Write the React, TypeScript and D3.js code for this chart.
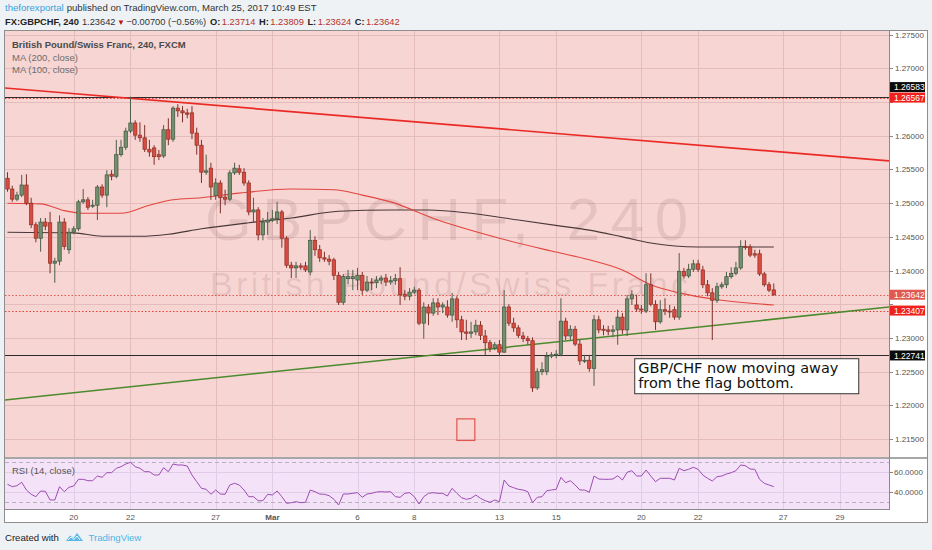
import { useRef, useEffect } from "react";
import * as d3 from "d3";

// GBPCHF 4h candles, Feb 16 - Mar 24 2017
const opens = [
  1.2537, 1.2521, 1.2506, 1.2512, 1.2527, 1.25, 1.2468, 1.2448, 1.2472, 1.2471,
  1.2411, 1.2414, 1.2472, 1.2431, 1.2457, 1.2462, 1.2502, 1.2505, 1.2496, 1.2497,
  1.2524, 1.2512, 1.2543, 1.254, 1.2572, 1.2583, 1.2607, 1.2619, 1.2601, 1.2597,
  1.258, 1.2582, 1.2572, 1.257, 1.2609, 1.2595, 1.2641, 1.2637, 1.2634, 1.2634,
  1.2604, 1.2586, 1.2546, 1.2552, 1.2511, 1.253, 1.2509, 1.2506, 1.2545, 1.2551,
  1.2546, 1.253, 1.2487, 1.249, 1.2453, 1.2472, 1.2475, 1.2477, 1.2487, 1.2448,
  1.2408, 1.2404, 1.2407, 1.2407, 1.2398, 1.2445, 1.2431, 1.2419, 1.2417, 1.2416,
  1.2393, 1.2353, 1.2388, 1.2388, 1.2386, 1.2393, 1.2371, 1.2383, 1.2382, 1.2386,
  1.2389, 1.2383, 1.2385, 1.2388, 1.2365, 1.2362, 1.2368, 1.2371, 1.2322, 1.2346,
  1.2337, 1.2352, 1.2346, 1.2346, 1.2334, 1.2358, 1.2327, 1.2309, 1.2307, 1.2309,
  1.2319, 1.2303, 1.2293, 1.2285, 1.229, 1.2279, 1.2346, 1.2322, 1.2315, 1.2303,
  1.2299, 1.2296, 1.2226, 1.225, 1.225, 1.2273, 1.2275, 1.2276, 1.2325, 1.2303,
  1.2313, 1.2291, 1.2266, 1.2267, 1.2255, 1.2327, 1.2313, 1.2312, 1.231, 1.2312,
  1.2331, 1.2312, 1.2358, 1.2349, 1.2343, 1.234, 1.2379, 1.235, 1.2324, 1.2342,
  1.234, 1.2342, 1.2331, 1.2399, 1.2392, 1.2402, 1.241, 1.2401, 1.2379, 1.2367,
  1.2356, 1.2376, 1.2379, 1.2391, 1.2396, 1.2404, 1.2436, 1.2435, 1.2425, 1.2425,
  1.2395, 1.2379, 1.23714,
];
const highs = [
  1.2546, 1.2526, 1.2517, 1.2542, 1.2543, 1.2508, 1.2472, 1.2478, 1.2478, 1.2487,
  1.2419, 1.2482, 1.2478, 1.2463, 1.2466, 1.2505, 1.2521, 1.2509, 1.2505, 1.2527,
  1.2528, 1.2549, 1.2549, 1.2594, 1.2594, 1.2612, 1.2658, 1.2623, 1.262, 1.2616,
  1.2594, 1.2586, 1.2579, 1.2616, 1.2626, 1.2644, 1.2647, 1.2644, 1.264, 1.2644,
  1.2612, 1.2594, 1.2572, 1.256, 1.2537, 1.2534, 1.252, 1.2549, 1.256, 1.2557,
  1.2552, 1.2534, 1.2508, 1.2494, 1.2478, 1.2487, 1.249, 1.2502, 1.249, 1.2451,
  1.2413, 1.2413, 1.2411, 1.2413, 1.246, 1.2451, 1.2438, 1.2428, 1.2423, 1.2419,
  1.2398, 1.2395, 1.2401, 1.2401, 1.2404, 1.2398, 1.2392, 1.2389, 1.2392, 1.2393,
  1.2395, 1.2392, 1.2395, 1.2405, 1.2371, 1.2374, 1.2376, 1.2374, 1.2353, 1.235,
  1.2359, 1.2359, 1.2353, 1.2356, 1.2367, 1.2362, 1.2333, 1.2327, 1.2324, 1.2327,
  1.2325, 1.2312, 1.2297, 1.2294, 1.2297, 1.2371, 1.235, 1.233, 1.2319, 1.2309,
  1.2303, 1.2301, 1.2255, 1.2264, 1.2279, 1.2279, 1.2282, 1.2359, 1.233, 1.2319,
  1.2318, 1.2297, 1.2275, 1.2275, 1.2334, 1.2333, 1.2319, 1.2318, 1.2319, 1.2342,
  1.2337, 1.2364, 1.2371, 1.2364, 1.2349, 1.2396, 1.2396, 1.2356, 1.2356, 1.2359,
  1.2349, 1.2347, 1.2426, 1.2404, 1.241, 1.2416, 1.2416, 1.2407, 1.2386, 1.2374,
  1.2382, 1.2383, 1.2398, 1.2405, 1.2413, 1.2445, 1.2445, 1.2439, 1.2431, 1.2431,
  1.2398, 1.2383, 1.23809,
];
const lows = [
  1.2517, 1.2502, 1.2503, 1.2509, 1.2497, 1.2463, 1.2442, 1.2428, 1.246, 1.2396,
  1.2382, 1.2408, 1.2431, 1.2425, 1.2454, 1.2459, 1.2499, 1.249, 1.2493, 1.2475,
  1.2508, 1.2494, 1.2534, 1.2537, 1.2569, 1.2579, 1.2604, 1.2594, 1.2591, 1.2576,
  1.2569, 1.2557, 1.2564, 1.2567, 1.2586, 1.2591, 1.2628, 1.262, 1.2626, 1.2595,
  1.2572, 1.253, 1.2542, 1.2505, 1.2505, 1.2485, 1.2497, 1.2503, 1.2542, 1.2542,
  1.2526, 1.2482, 1.2472, 1.2445, 1.2445, 1.2453, 1.2472, 1.2469, 1.2434, 1.2404,
  1.2389, 1.2389, 1.2401, 1.2398, 1.2393, 1.2422, 1.2413, 1.2413, 1.2408, 1.2386,
  1.2349, 1.2349, 1.238, 1.2371, 1.2371, 1.2364, 1.2368, 1.2371, 1.2374, 1.238,
  1.2377, 1.2379, 1.2379, 1.2349, 1.2356, 1.2356, 1.2365, 1.2319, 1.2299, 1.2319,
  1.2333, 1.2334, 1.2337, 1.233, 1.2324, 1.2315, 1.2297, 1.2297, 1.23, 1.2304,
  1.2297, 1.2275, 1.2279, 1.2282, 1.2273, 1.2278, 1.2318, 1.2309, 1.23, 1.2294,
  1.229, 1.222, 1.2223, 1.2245, 1.2245, 1.227, 1.227, 1.2273, 1.2297, 1.2297,
  1.2288, 1.226, 1.2263, 1.225, 1.2229, 1.2307, 1.2304, 1.2304, 1.2301, 1.229,
  1.2306, 1.2303, 1.2349, 1.2339, 1.2336, 1.2337, 1.2347, 1.2312, 1.2321, 1.2334,
  1.233, 1.2327, 1.2327, 1.2388, 1.2389, 1.2398, 1.2398, 1.2374, 1.2362, 1.2297,
  1.2352, 1.2373, 1.2374, 1.2388, 1.2393, 1.2401, 1.2431, 1.242, 1.2419, 1.2392,
  1.2376, 1.2368, 1.23624,
];
const closes = [
  1.2521, 1.2506, 1.2512, 1.2527, 1.25, 1.2468, 1.2448, 1.2472, 1.2466, 1.2411,
  1.2414, 1.2472, 1.2436, 1.2457, 1.2462, 1.2502, 1.2505, 1.2494, 1.2497, 1.2524,
  1.2512, 1.2542, 1.254, 1.2572, 1.2583, 1.2607, 1.2619, 1.2601, 1.2597, 1.258,
  1.2576, 1.2569, 1.2569, 1.2609, 1.2595, 1.2641, 1.2637, 1.2634, 1.2632, 1.2604,
  1.2586, 1.2546, 1.2548, 1.2524, 1.253, 1.2508, 1.2506, 1.2545, 1.2552, 1.2546,
  1.253, 1.2487, 1.249, 1.2453, 1.2472, 1.2475, 1.2477, 1.2487, 1.2448, 1.2408,
  1.2404, 1.2407, 1.2405, 1.2401, 1.2445, 1.2431, 1.2419, 1.2417, 1.2414, 1.2393,
  1.2353, 1.2391, 1.2391, 1.2391, 1.2393, 1.2371, 1.2383, 1.2382, 1.2386, 1.2389,
  1.2383, 1.2385, 1.2388, 1.2364, 1.2362, 1.2368, 1.2371, 1.2322, 1.2346, 1.2337,
  1.2352, 1.2346, 1.2349, 1.2334, 1.2358, 1.2327, 1.2309, 1.2307, 1.2309, 1.2319,
  1.2304, 1.2293, 1.2285, 1.229, 1.2279, 1.2346, 1.2322, 1.2315, 1.2304, 1.2299,
  1.2296, 1.2226, 1.225, 1.2253, 1.2273, 1.2275, 1.2276, 1.2325, 1.2303, 1.2313,
  1.2291, 1.2266, 1.2267, 1.2255, 1.2327, 1.2312, 1.2312, 1.231, 1.2312, 1.2331,
  1.2312, 1.2358, 1.2364, 1.2343, 1.2342, 1.2379, 1.235, 1.2324, 1.2342, 1.234,
  1.2339, 1.2331, 1.2399, 1.2392, 1.2402, 1.241, 1.2402, 1.2379, 1.2367, 1.2356,
  1.2376, 1.2379, 1.2391, 1.2396, 1.2404, 1.2436, 1.2435, 1.2423, 1.2423, 1.2395,
  1.2379, 1.2371, 1.23642,
];

// RSI(14) per bar
const rsiValues = [
  47.7, 45.3, 46.3, 49.7, 42, 37.7, 35.3, 41, 40.7, 32,
  32, 45.3, 40.3, 44.7, 46, 52.7, 52.7, 51.3, 51.3, 56,
  54.7, 59.3, 59.3, 63.7, 65.3, 68, 69.7, 65.3, 63.7, 60.3,
  60.3, 57, 57, 64.3, 60.3, 68, 67, 67, 66, 57,
  50.3, 43.7, 42.7, 37.7, 42, 38, 37.7, 47, 48.7, 47,
  42, 35.3, 35.3, 31.3, 31.3, 37.7, 37, 41, 35.3, 28.7,
  29.3, 30.3, 29.3, 29.7, 42, 40.3, 38, 37.7, 36.3, 32.7,
  27, 38, 38, 38.7, 39.3, 34.7, 38, 38.7, 40, 40.3,
  40, 40.3, 35.3, 34.7, 38.7, 39.3, 35.3, 28, 35.3, 38.7,
  39.3, 38.7, 38.7, 36, 43.7, 38.7, 34.3, 32.7, 33.7, 37,
  33.7, 31.3, 29.7, 32, 30.3, 52, 46, 44.3, 42.7, 42,
  40.3, 29.3, 34.7, 35.3, 41.3, 42, 42.7, 54.7, 49.3, 51.3,
  47, 42, 42, 39.7, 56, 53, 52.7, 52.7, 53, 56.3,
  52, 59.7, 61.3, 56, 56, 62, 56, 50.3, 53.7, 53.7,
  53.7, 52, 63.7, 61.3, 62.7, 64.7, 62.7, 57, 53.7, 51,
  55.3, 56, 58, 59.3, 61.3, 67, 66.3, 63, 62.7, 52.7,
  48.7, 47, 45.3,
];

// moving averages, sampled [bar, value]
const ma200 = [
  [0, 1.2457], [14, 1.2456], [20, 1.2451], [28, 1.2451], [34, 1.2454], [41, 1.2462],
  [51, 1.2471], [60, 1.2478], [70, 1.2488], [81, 1.249], [89, 1.249], [98, 1.2485],
  [108, 1.2475], [117, 1.2466], [123, 1.246], [130, 1.245], [136, 1.2441],
  [146, 1.2435], [162, 1.2435],
];
const ma100 = [
  [0, 1.25], [7, 1.2499], [12, 1.2489], [16, 1.2485], [24, 1.2485], [30, 1.2497],
  [35, 1.2505], [41, 1.2508], [49, 1.2515], [60, 1.2521], [69, 1.252], [75, 1.2512],
  [81, 1.2502], [91, 1.2475], [104, 1.2448], [115, 1.2429], [123, 1.2416],
  [130, 1.2401], [136, 1.2379], [142, 1.2367], [151, 1.2356], [162, 1.2349],
];

// drawn trend lines, two anchors each [bar, price]
const upperTrend = [[0, 1.26706], [186, 1.25629]];
const lowerTrend = [[0, 1.22084], [186, 1.23457]];

const levelValues = [1.26583, 1.26567, 1.23642, 1.23407, 1.22741];

const dateTicks = [14, 26, 44, 56, 74, 86, 104, 116, 134, 146, 164, 176];
const dateLabels = ["20", "22", "27", "Mar", "6", "8", "13", "15", "20", "22", "27", "29"];
const priceTicks = [1.215, 1.22, 1.225, 1.23, 1.235, 1.24, 1.245, 1.25, 1.255, 1.26, 1.265, 1.27, 1.275];
const rsiTicks = [40, 60];
const rsiBands = [30, 70];

// note box and small square drawn on the chart, [bar, price]
const noteAnchor = [132.5, 1.227];
const squareCorners = [[95, 1.218], [98.8, 1.2148]];
const noteLines = ["GBP/CHF now moving away", "from the flag bottom."];

const FONT = "'Liberation Sans', Arial, sans-serif";

export default function App() {
  const svgRef = useRef<SVGSVGElement | null>(null);

  useEffect(() => {
    if (!svgRef.current) return;
    const svg = d3.select(svgRef.current);
    svg.selectAll("*").remove();

    const left = 5, right = 889, axisRight = 927;
    const mainTop = 31, mainBottom = 457, rsiTop = 459, rsiBottom = 509, frameBottom = 522;

    const x = d3.scaleLinear().domain([-0.53, 186.36]).range([left, right]);
    const y = d3.scaleLinear().domain([1.212344, 1.275549]).range([mainBottom, mainTop]);
    const yr = d3.scaleLinear().domain([23, 73]).range([rsiBottom, rsiTop]);

    svg.append("rect").attr("width", 932).attr("height", 550).attr("fill", "#eef2f5");

    const defs = svg.append("defs");
    defs.append("clipPath").attr("id", "mainClip")
      .append("rect").attr("x", left).attr("y", mainTop).attr("width", right - left).attr("height", mainBottom - mainTop);
    defs.append("clipPath").attr("id", "rsiClip")
      .append("rect").attr("x", left).attr("y", rsiTop).attr("width", right - left).attr("height", rsiBottom - rsiTop);

    // frame and panes
    svg.append("rect")
      .attr("x", left - 0.5).attr("y", mainTop - 0.5)
      .attr("width", axisRight - left + 1).attr("height", frameBottom - mainTop + 1)
      .attr("fill", "#fff").attr("stroke", "#8e8e8e");
    svg.append("rect").attr("x", left).attr("y", mainTop)
      .attr("width", right - left).attr("height", mainBottom - mainTop).attr("fill", "#f6d5d3");
    svg.append("rect").attr("x", left).attr("y", rsiTop)
      .attr("width", right - left).attr("height", rsiBottom - rsiTop).attr("fill", "#f4e3f8");

    // grid
    const grid = svg.append("g").attr("stroke", "#e3bcbb").attr("stroke-width", 1);
    grid.selectAll("line.v").data(dateTicks).enter().append("line")
      .attr("x1", (d) => Math.round(x(d)) + 0.5).attr("x2", (d) => Math.round(x(d)) + 0.5)
      .attr("y1", mainTop).attr("y2", mainBottom);
    grid.selectAll("line.h").data(priceTicks).enter().append("line")
      .attr("x1", left).attr("x2", right)
      .attr("y1", (d) => Math.round(y(d)) + 0.5).attr("y2", (d) => Math.round(y(d)) + 0.5);
    const rgrid = svg.append("g").attr("stroke", "#e2cde8");
    rgrid.selectAll("line.v").data(dateTicks).enter().append("line")
      .attr("x1", (d) => Math.round(x(d)) + 0.5).attr("x2", (d) => Math.round(x(d)) + 0.5)
      .attr("y1", rsiTop).attr("y2", rsiBottom);
    rgrid.selectAll("line.h").data(rsiTicks).enter().append("line")
      .attr("x1", left).attr("x2", right)
      .attr("y1", (d) => Math.round(yr(d)) + 0.5).attr("y2", (d) => Math.round(yr(d)) + 0.5);

    // watermark
    svg.append("text").attr("x", 205).attr("y", 240)
      .attr("font-family", FONT).attr("font-size", 60)
      .attr("textLength", 483).attr("lengthAdjust", "spacing")
      .attr("fill", "rgba(110,60,60,0.12)").text("GBPCHF, 240");
    svg.append("text").attr("x", 210).attr("y", 296)
      .attr("font-family", FONT).attr("font-size", 34)
      .attr("textLength", 478).attr("lengthAdjust", "spacing")
      .attr("fill", "rgba(110,60,60,0.12)").text("British Pound/Swiss Franc");

    const main = svg.append("g").attr("clip-path", "url(#mainClip)");

    // horizontal levels
    const levelStroke = ["#2b2b2b", "#e8403a", "#e0584f", "#e8403a", "#2b2b2b"];
    const levelDash = [null, "1.5,2", "1.5,2", "1.5,2", null];
    main.selectAll("line.level").data(levelValues).enter().append("line")
      .attr("x1", left).attr("x2", right)
      .attr("y1", (d) => Math.round(y(d)) + 0.5).attr("y2", (d) => Math.round(y(d)) + 0.5)
      .attr("stroke", (_, i) => levelStroke[i])
      .attr("stroke-dasharray", (_, i) => levelDash[i])
      .attr("stroke-width", 1);

    // trend lines spanning the pane
    const trend = (pts: number[][]) => {
      const f = d3.scaleLinear().domain([pts[0][0], pts[1][0]]).range([pts[0][1], pts[1][1]]);
      const [a, b] = x.domain();
      return [[a, f(a)], [b, f(b)]];
    };
    const seg = d3.line<number[]>().x((d) => x(d[0])).y((d) => y(d[1]));
    main.append("path").attr("d", seg(trend(upperTrend)))
      .attr("fill", "none").attr("stroke", "#ec2a25").attr("stroke-width", 1.7);
    main.append("path").attr("d", seg(trend(lowerTrend)))
      .attr("fill", "none").attr("stroke", "#4b8a2d").attr("stroke-width", 1.5);

    // moving averages
    const maLine = d3.line<number[]>().x((d) => x(d[0])).y((d) => y(d[1])).curve(d3.curveMonotoneX);
    main.append("path").attr("d", maLine(ma200))
      .attr("fill", "none").attr("stroke", "#4a3838").attr("stroke-width", 1.1);
    main.append("path").attr("d", maLine(ma100))
      .attr("fill", "none").attr("stroke", "#e2463f").attr("stroke-width", 1.1);

    // candles
    const bars = closes.map((c, i) => ({ i, o: opens[i], h: highs[i], l: lows[i], c }));
    const up = (d: { o: number; c: number }) => d.c >= d.o;
    const candles = main.selectAll("g.candle").data(bars).enter().append("g");
    candles.append("line")
      .attr("x1", (d) => x(d.i)).attr("x2", (d) => x(d.i))
      .attr("y1", (d) => y(d.h)).attr("y2", (d) => y(d.l))
      .attr("stroke", (d) => (up(d) ? "#4d5f4b" : "#7c3129")).attr("stroke-width", 1);
    candles.append("rect")
      .attr("x", (d) => x(d.i) - 1.7).attr("width", 3.4)
      .attr("y", (d) => y(Math.max(d.o, d.c)))
      .attr("height", (d) => Math.max(1, Math.abs(y(d.o) - y(d.c))))
      .attr("fill", (d) => (up(d) ? "#728f6e" : "#db4a3e"))
      .attr("stroke", (d) => (up(d) ? "#3e543c" : "#8c2f27"))
      .attr("stroke-width", 0.7);

    // small square drawing
    main.append("rect")
      .attr("x", x(squareCorners[0][0])).attr("y", y(squareCorners[0][1]))
      .attr("width", x(squareCorners[1][0]) - x(squareCorners[0][0]))
      .attr("height", y(squareCorners[1][1]) - y(squareCorners[0][1]))
      .attr("fill", "none").attr("stroke", "#e2544e").attr("stroke-width", 1.2);

    // note box
    const nx = x(noteAnchor[0]), ny = y(noteAnchor[1]);
    svg.append("rect").attr("x", nx + 0.5).attr("y", ny + 0.5).attr("width", 224).attr("height", 35)
      .attr("fill", "#fff").attr("stroke", "#333").attr("stroke-width", 1);
    svg.append("g").selectAll("text").data(noteLines).enter().append("text")
      .attr("x", nx + 4).attr("y", (_, i) => ny + 15 + i * 15)
      .attr("font-family", "'DejaVu Sans', sans-serif").attr("font-size", 14.5).attr("fill", "#111")
      .text((d) => d);

    // legend
    const legend = svg.append("g").attr("font-family", FONT).attr("font-size", 9.5);
    legend.append("text").attr("x", 12).attr("y", 47.5).attr("fill", "#4a4a4a").attr("font-weight", "bold")
      .text("British Pound/Swiss Franc, 240, FXCM");
    legend.append("text").attr("x", 12).attr("y", 60.5).attr("fill", "#6d6d6d").text("MA (200, close)");
    legend.append("text").attr("x", 12).attr("y", 72.5).attr("fill", "#6d6d6d").text("MA (100, close)");

    // pane separators and axis line
    svg.append("line").attr("x1", left).attr("x2", axisRight).attr("y1", mainBottom + 1).attr("y2", mainBottom + 1)
      .attr("stroke", "#8a8a8a").attr("stroke-width", 1.6);
    svg.append("line").attr("x1", left).attr("x2", right).attr("y1", rsiBottom + 0.5).attr("y2", rsiBottom + 0.5)
      .attr("stroke", "#8a8a8a");
    svg.append("line").attr("x1", right + 0.5).attr("x2", right + 0.5).attr("y1", mainTop).attr("y2", rsiBottom + 1)
      .attr("stroke", "#8a8a8a");

    // RSI
    const rsi = svg.append("g").attr("clip-path", "url(#rsiClip)");
    rsi.selectAll("line.band").data(rsiBands).enter().append("line")
      .attr("x1", left).attr("x2", right)
      .attr("y1", (d) => Math.round(yr(d)) + 0.5).attr("y2", (d) => Math.round(yr(d)) + 0.5)
      .attr("stroke", "#b8b0bc").attr("stroke-dasharray", "4,3");
    const rsiLine = d3.line<number>().x((_, i) => x(i)).y((d) => yr(d));
    rsi.append("path").attr("d", rsiLine(rsiValues))
      .attr("fill", "none").attr("stroke", "#9d4cb2").attr("stroke-width", 1);
    svg.append("text").attr("x", 12).attr("y", 474).attr("font-family", FONT).attr("font-size", 9.5)
      .attr("fill", "#555").text("RSI (14, close)");

    // level labels, nudged apart when they collide
    const labelFill = ["#0b0b0b", "#f0211c", "#e0584f", "#f0211c", "#0b0b0b"];
    const labelY = levelValues.map((v) => y(v));
    const order = d3.range(levelValues.length).sort((a, b) => labelY[b] - labelY[a]);
    for (let k = 1; k < order.length; k++) {
      const below = labelY[order[k - 1]];
      if (below - labelY[order[k]] < 10.5) labelY[order[k]] = below - 10.5;
    }

    // right price axis (tick labels hidden behind level tags are skipped)
    const axisG = svg.append("g").attr("font-family", FONT).attr("font-size", 8).attr("fill", "#555");
    const visible = priceTicks.filter((p) => y(p) > mainTop - 2);
    axisG.selectAll("line").data(visible).enter().append("line")
      .attr("x1", right).attr("x2", right + 4)
      .attr("y1", (d) => Math.round(y(d)) + 0.5).attr("y2", (d) => Math.round(y(d)) + 0.5)
      .attr("stroke", "#888");
    const freeTicks = visible.filter((p) => labelY.every((ly) => Math.abs(ly - y(p)) > 9));
    axisG.selectAll("text").data(freeTicks).enter().append("text")
      .attr("x", right + 6).attr("y", (d) => y(d) + 3).text((d) => d.toFixed(5));
    const rsiAxis = svg.append("g").attr("font-family", FONT).attr("font-size", 8).attr("fill", "#555");
    rsiAxis.selectAll("line").data(rsiTicks).enter().append("line")
      .attr("x1", right).attr("x2", right + 4)
      .attr("y1", (d) => Math.round(yr(d)) + 0.5).attr("y2", (d) => Math.round(yr(d)) + 0.5)
      .attr("stroke", "#888");
    rsiAxis.selectAll("text").data(rsiTicks).enter().append("text")
      .attr("x", right + 5).attr("y", (d) => yr(d) + 3).text((d) => d.toFixed(4));

    const tags = svg.append("g").attr("font-family", FONT).attr("font-size", 8.5);
    levelValues.forEach((v, i) => {
      tags.append("rect").attr("x", right + 1).attr("y", labelY[i] - 5)
        .attr("width", 35).attr("height", 10).attr("fill", labelFill[i]);
      tags.append("text").attr("x", right + 5).attr("y", labelY[i] + 3.2)
        .attr("fill", "#fff").text(v.toFixed(5));
    });

    // time axis
    svg.append("g").attr("font-family", FONT).attr("font-size", 8).attr("fill", "#555")
      .selectAll("text").data(dateTicks).enter().append("text")
      .attr("x", (d) => x(d)).attr("y", 519.5).attr("text-anchor", "middle")
      .attr("font-weight", (_, i) => (dateLabels[i] === "Mar" ? "bold" : "normal"))
      .text((_, i) => dateLabels[i]);

    // header
    const head = svg.append("g").attr("font-family", FONT).attr("font-size", 9.6);
    const l1 = head.append("text").attr("x", 5).attr("y", 11).attr("fill", "#333");
    l1.append("tspan").attr("fill", "#3aa0da").text("theforexportal");
    l1.append("tspan").attr("dx", 3).text("published on TradingView.com, March 25, 2017 10:49 EST");
    const red = "#b8312a";
    const parts: [string, string, boolean, number][] = [
      ["FX:GBPCHF, 240", "#222", true, 0],
      ["1.23642", "#333", false, 3],
      ["\u25BC", "#c0141a", false, 1.5],
      ["\u22120.00700 (\u22120.56%)", "#333", false, 1.5],
      ["O:", "#222", true, 4],
      ["1.23714", red, false, 1.5],
      ["H:", "#222", true, 3.5],
      ["1.23809", red, false, 1.5],
      ["L:", "#222", true, 3.5],
      ["1.23624", red, false, 1.5],
      ["C:", "#222", true, 3.5],
      ["1.23642", red, false, 1.5],
    ];
    const l2 = head.append("text").attr("x", 5).attr("y", 25).attr("font-size", 9.3);
    parts.forEach(([t, c, b, dx]) => {
      l2.append("tspan").attr("dx", dx).attr("fill", c)
        .attr("font-weight", b ? "bold" : "normal")
        .attr("font-size", t === "\u25BC" ? 8 : null)
        .text(t);
    });

    // footer
    const foot = svg.append("g").attr("font-family", FONT).attr("font-size", 9.6);
    foot.append("text").attr("x", 5).attr("y", 541).attr("fill", "#222").text("Created with");
    foot.append("path")
      .attr("d", "M66,541 L70,535.5 L73.5,538 L77,533 L83,541 Z")
      .attr("fill", "#5bb8e6");
    foot.append("path").attr("d", "M68,540 L71,537 L74,539.5 L77,536 L80,540")
      .attr("fill", "none").attr("stroke", "#fff").attr("stroke-width", 0.9);
    foot.append("text").attr("x", 88.5).attr("y", 541).attr("fill", "#4fb3e4").text("TradingView");
  }, []);

  return (
    <svg
      ref={svgRef}
      width={932}
      height={550}
      style={{ position: "absolute", left: 0, top: 0 }}
    />
  );
}
